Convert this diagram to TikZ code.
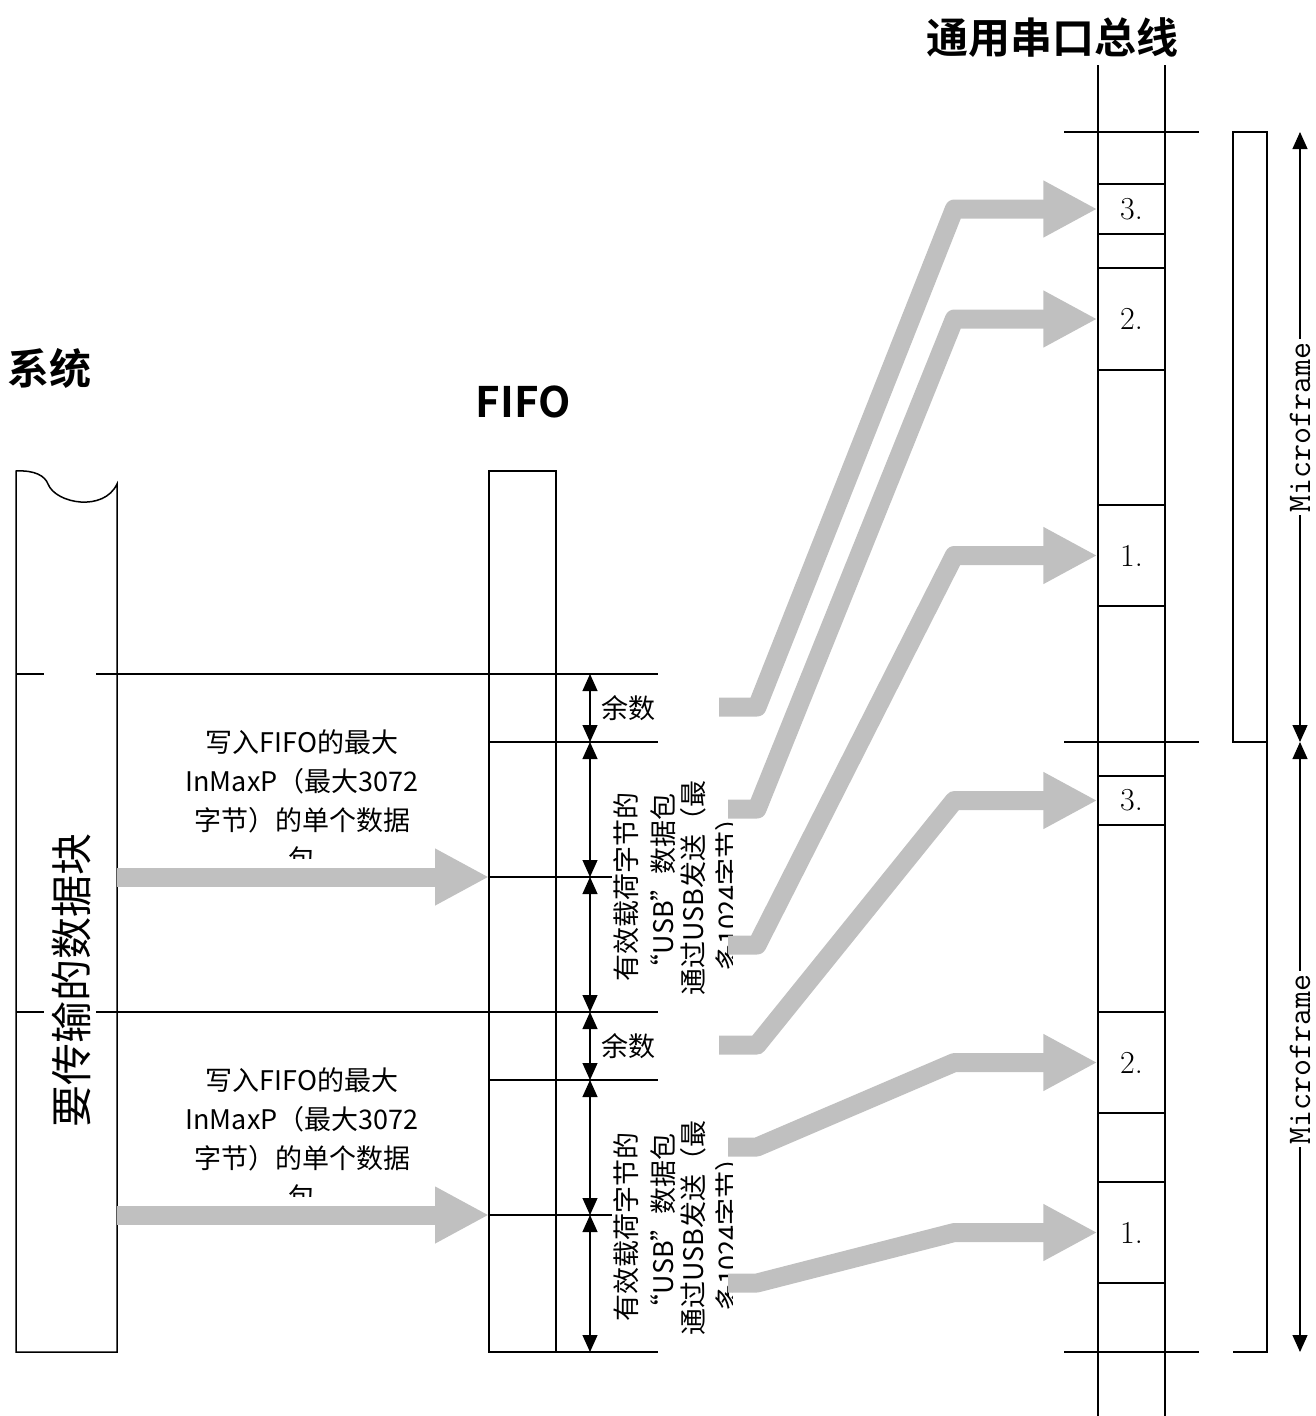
\documentclass[tikz,border=0pt]{standalone}
\usepackage{fontspec}
\newfontfamily\cjk{Noto Sans CJK SC}[BoldFont={Noto Sans CJK SC Bold}]
\usetikzlibrary{arrows.meta}
\definecolor{arrowgray}{RGB}{192,192,192}

\begin{document}
\begin{tikzpicture}[x=1pt, y=-1pt, line width=1.5pt,
    fat/.style={draw=arrowgray, line width=19pt, line join=round,
        -{Triangle[width=53pt,length=54pt]}},
    dimarrow/.style={line width=1.1pt,
        {Triangle[width=15pt,length=17pt]}-{Triangle[width=15pt,length=17pt]}},
    pkt/.style={draw, line width=1.3pt, minimum width=67pt, inner sep=0pt,
        font=\fontsize{32}{32}\selectfont},
    txt/.style={font=\cjk\fontsize{27}{39}\selectfont, align=center, inner sep=0pt},
    headline/.style={font=\cjk\bfseries\fontsize{42}{42}\selectfont, inner sep=0pt},
    mframe/.style={rotate=90, fill=white, inner sep=3pt,
        font=\ttfamily\fontsize{33}{33}\selectfont}]

    \useasboundingbox (0,0) rectangle (1315,1416);

    % 見出し
    \node[headline] (sys) at (50,368) {系统};
    \node[headline] (fifo) at (523,402) {FIFO};
    \node[headline] (usb) at (1052,38) {通用串口总线};

    % システム側のブロック
    \draw (16,1352) -- (16,471) .. controls (35,470) and (45,476) .. (48,484)
        .. controls (56,504) and (104,512) .. (117,484) -- (117,1352) -- cycle;
    \node[rotate=90, font=\cjk\fontsize{42}{42}\selectfont, inner sep=0pt]
        (blk) at (72,980) {要传输的数据块};

    % 区切り線
    \draw (16,674) -- (44,674) (96,674) -- (658,674);
    \draw (16,1012) -- (44,1012) (96,1012) -- (658,1012);

    % FIFO の描画
    \draw (489,471) rectangle (556,1352);
    \draw (489,742) -- (658,742);
    \draw (489,877) -- (612,877);
    \draw (489,1080) -- (658,1080);
    \draw (489,1215) -- (612,1215);
    \draw (489,1352) -- (658,1352);

    % 寸法線
    \coordinate (m0) at (590,674);
    \coordinate (m1) at (590,742);
    \coordinate (m2) at (590,877);
    \coordinate (m3) at (590,1012);
    \coordinate (m4) at (590,1080);
    \coordinate (m5) at (590,1215);
    \coordinate (m6) at (590,1352);
    \draw[dimarrow] (m0) -- (m1);
    \draw[dimarrow] (m1) -- (m2);
    \draw[dimarrow] (m2) -- (m3);
    \draw[dimarrow] (m3) -- (m4);
    \draw[dimarrow] (m4) -- (m5);
    \draw[dimarrow] (m5) -- (m6);
    \node[txt] (rest1) at (628,708) {余数};
    \node[txt] (rest2) at (628,1046) {余数};

    % 説明文
    \begin{scope}
        \clip (140,700) rectangle (470,858);
        \node[txt] (wr1) at (302,800) {写入FIFO的最大\\InMaxP（最大3072\\字节）的单个数据\\包};
    \end{scope}
    \begin{scope}
        \clip (140,1038) rectangle (470,1196);
        \node[txt] (wr2) at (302,1138) {写入FIFO的最大\\InMaxP（最大3072\\字节）的单个数据\\包};
    \end{scope}
    \node[txt, rotate=90, font=\cjk\fontsize{27}{37}\selectfont]
        (pay1) at (645,887) {有效载荷字节的\\“USB”数据包};
    \node[txt, rotate=90, font=\cjk\fontsize{27}{37}\selectfont]
        (pay2) at (645,1227) {有效载荷字节的\\“USB”数据包};
    \begin{scope}
        \clip (600,700) rectangle (732,1010);
        \node[txt, rotate=90, font=\cjk\fontsize{27}{35}\selectfont]
            (send1) at (711,888) {通过USB发送（最\\多1024字节）};
    \end{scope}
    \begin{scope}
        \clip (600,1040) rectangle (732,1350);
        \node[txt, rotate=90, font=\cjk\fontsize{27}{35}\selectfont]
            (send2) at (711,1228) {通过USB发送（最\\多1024字节）};
    \end{scope}

    % バスの描画
    \draw[line width=1.3pt] (1098,65) -- (1098,1416) (1165,65) -- (1165,1416);
    \draw (1064,132) -- (1199,132) (1064,742) -- (1199,742) (1064,1352) -- (1199,1352);
    \draw (1233,132) rectangle (1267,742);
    \draw (1267,742) -- (1267,1352) -- (1233,1352);

    \node[pkt, minimum height=50pt] (p3) at (1131.5,209) {3.};
    \node[pkt, minimum height=102pt] (p2) at (1131.5,319) {2.};
    \node[pkt, minimum height=101pt] (p1) at (1131.5,555.5) {1.};
    \node[pkt, minimum height=49pt] (q3) at (1131.5,800.5) {3.};
    \node[pkt, minimum height=101pt] (q2) at (1131.5,1062.5) {2.};
    \node[pkt, minimum height=101pt] (q1) at (1131.5,1232.5) {1.};

    % マイクロフレーム
    \coordinate (u0) at (1300,132);
    \coordinate (u1) at (1300,742);
    \coordinate (u2) at (1300,1352);
    \draw[dimarrow] (u0) -- node[mframe, pos=0.484] (mf1) {Microframe} (u1);
    \draw[dimarrow] (u1) -- node[mframe, pos=0.52] (mf2) {Microframe} (u2);

    % 太い矢印
    \coordinate (s1) at (117,877);
    \coordinate (s2) at (117,1215);
    \coordinate (f1) at (489,877);
    \coordinate (f2) at (489,1215);
    \draw[fat] (s1) -- (f1);
    \draw[fat] (s2) -- (f2);

    \coordinate (a1) at (719,707);
    \coordinate (a2) at (728,809);
    \coordinate (a3) at (728,945);
    \coordinate (b1) at (719,1045);
    \coordinate (b2) at (728,1147);
    \coordinate (b3) at (728,1283);
    \draw[fat] (a1) -- ++(38,0) -- ([xshift=-143pt]p3.west) -- (p3.west);
    \draw[fat] (a2) -- ++(29,0) -- ([xshift=-143pt]p2.west) -- (p2.west);
    \draw[fat] (a3) -- ++(29,0) -- ([xshift=-143pt]p1.west) -- (p1.west);
    \draw[fat] (b1) -- ++(38,0) -- ([xshift=-143pt]q3.west) -- (q3.west);
    \draw[fat] (b2) -- ++(29,0) -- ([xshift=-143pt]q2.west) -- (q2.west);
    \draw[fat] (b3) -- ++(29,0) -- ([xshift=-143pt]q1.west) -- (q1.west);

\end{tikzpicture}
\end{document}
